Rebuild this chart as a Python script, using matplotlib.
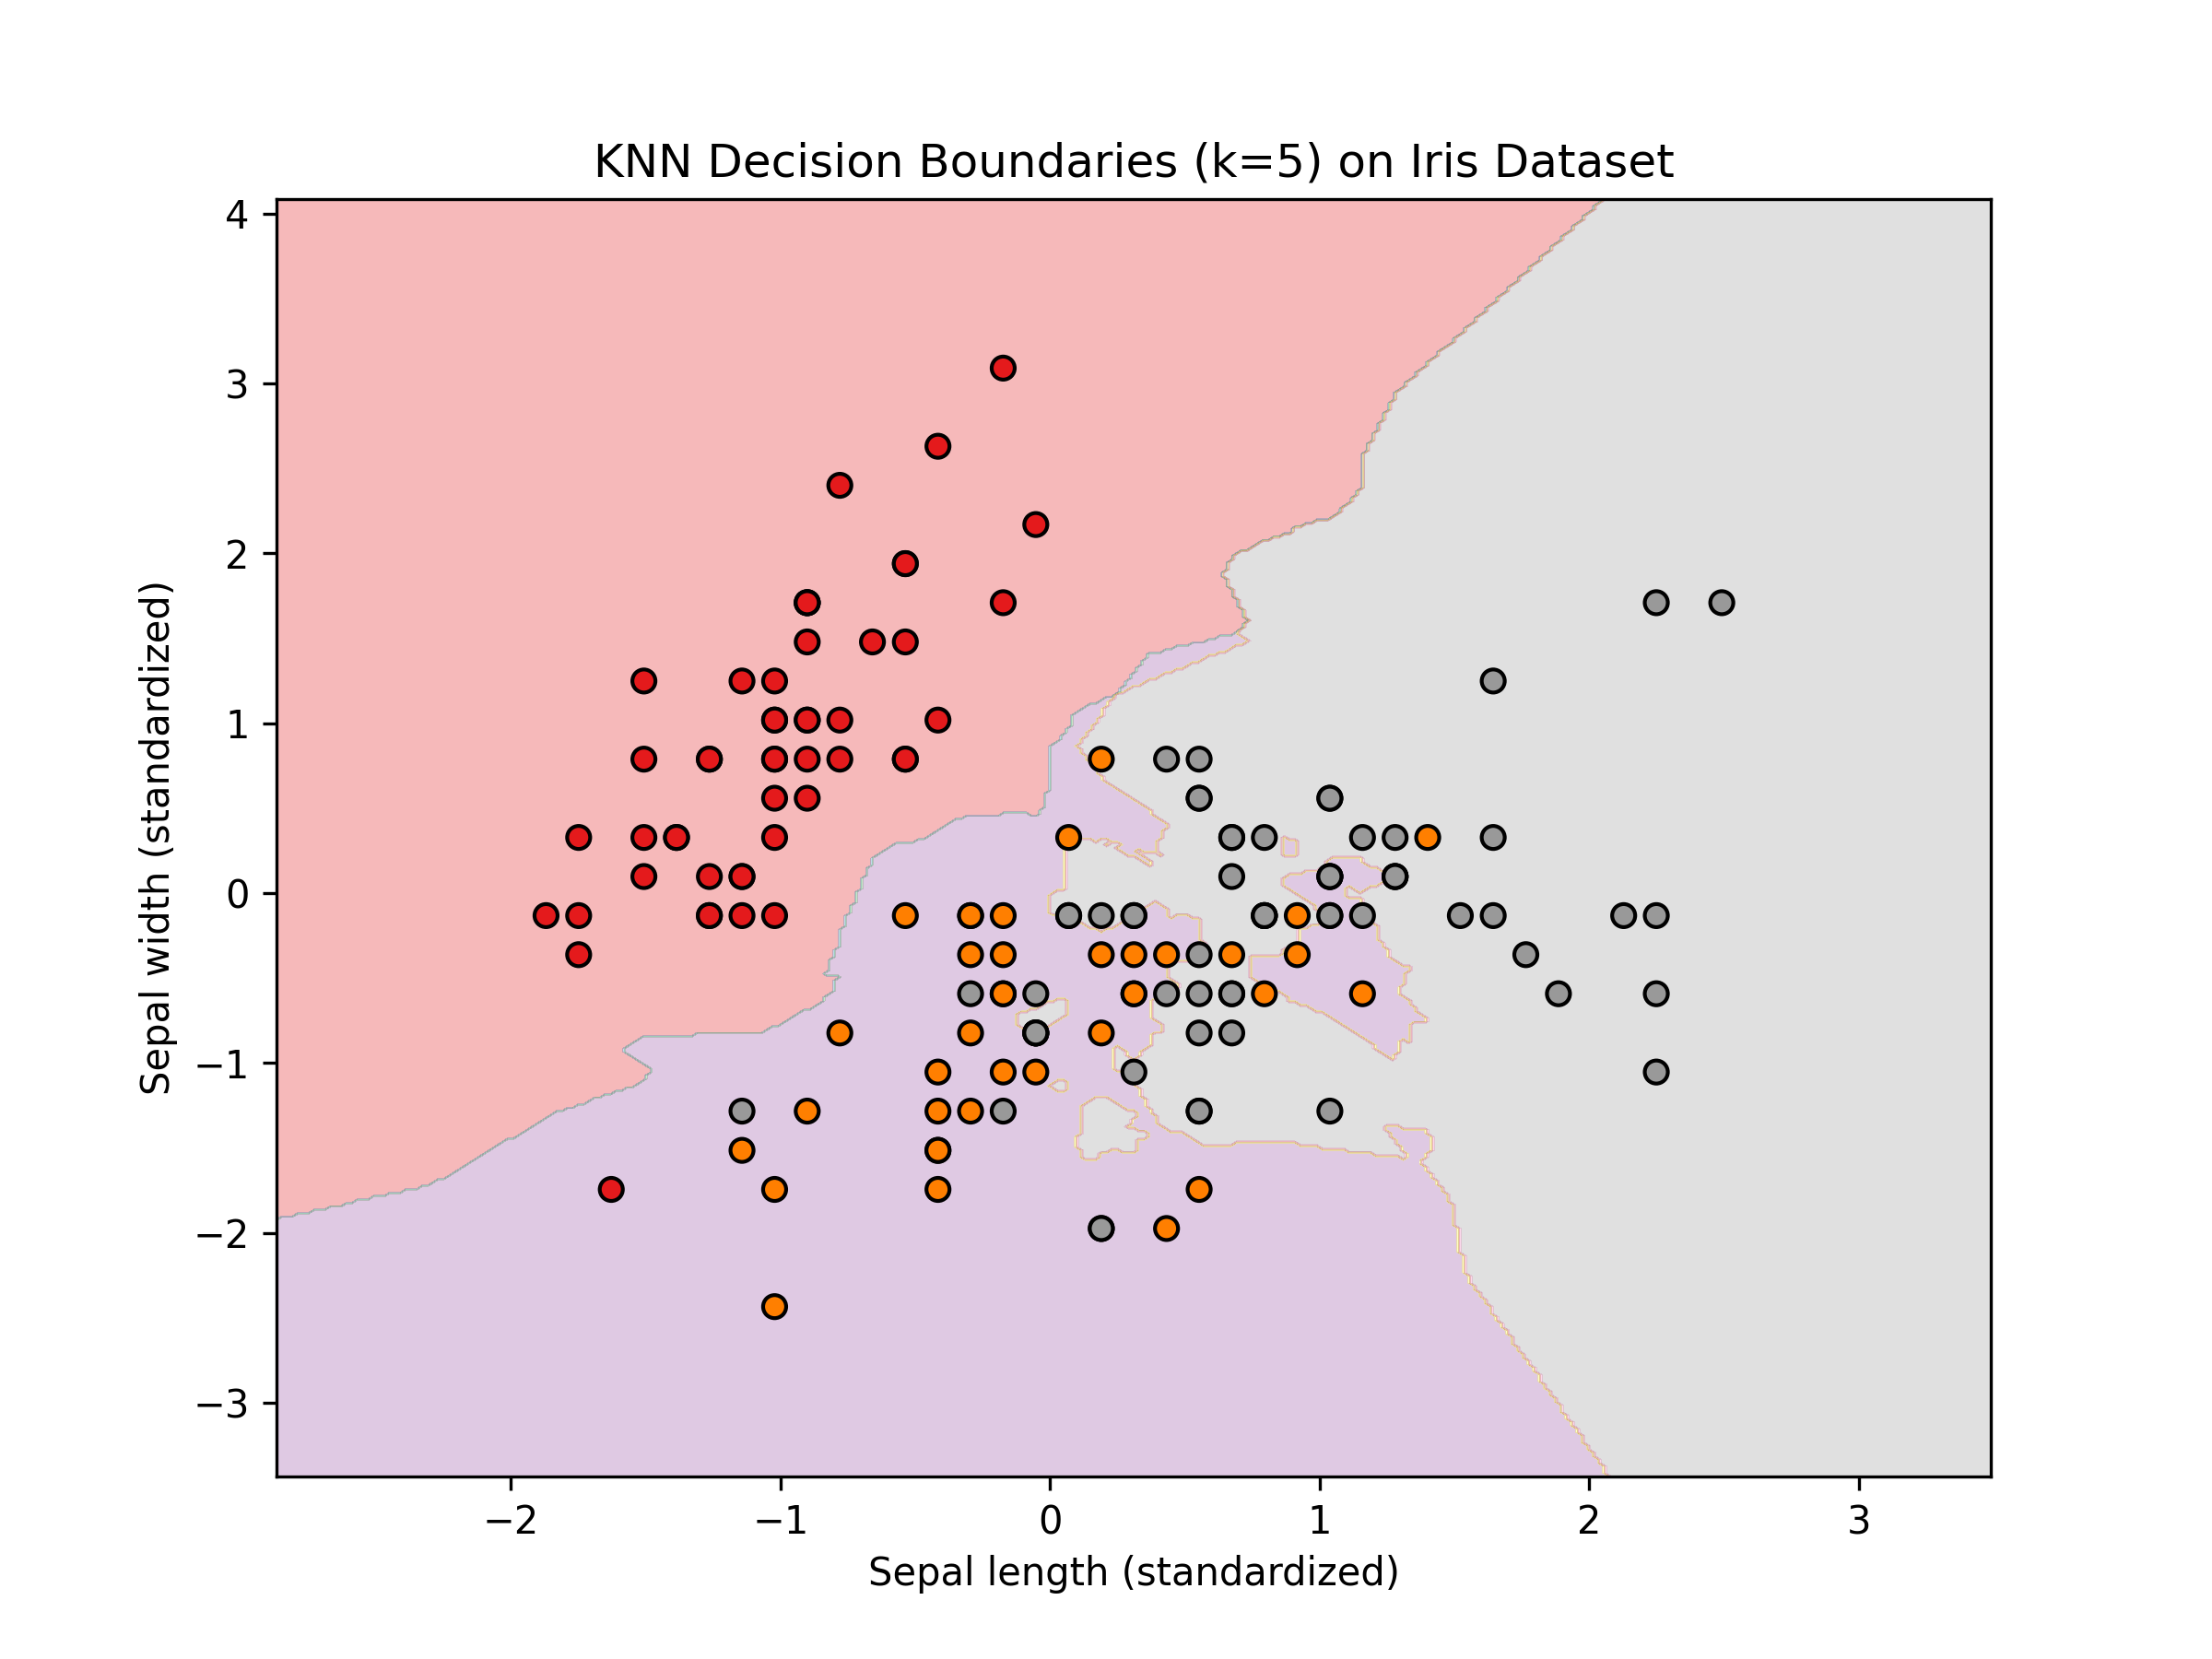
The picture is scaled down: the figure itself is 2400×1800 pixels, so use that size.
import numpy as np
import matplotlib
matplotlib.use('Agg')
import matplotlib.pyplot as plt

# sepal length / sepal width (standardized), one list per class
setosa_x = [-0.901, -1.143, -1.386, -1.507, -1.022, -0.537, -1.507, -1.022, -1.749, -1.143,
            -0.537, -1.264, -1.264, -1.870, -0.053, -0.174, -0.537, -0.901, -0.174, -0.901,
            -0.537, -0.901, -1.507, -0.901, -1.264, -1.022, -1.022, -0.780, -0.780, -1.386,
            -1.264, -0.537, -0.780, -0.416, -1.143, -1.022, -0.416, -1.143, -1.749, -0.901,
            -1.022, -1.628, -1.749, -1.022, -0.901, -1.264, -0.901, -1.507, -0.659, -1.022]
setosa_y = [1.019, -0.132, 0.328, 0.098, 1.249, 1.940, 0.789, 0.789, -0.362, 0.098,
            1.479, 0.789, -0.132, -0.132, 2.170, 3.091, 1.940, 1.019, 1.710, 1.710,
            0.789, 1.479, 1.249, 0.559, 0.789, -0.132, 0.789, 1.019, 0.789, 0.328,
            0.098, 0.789, 2.401, 2.631, 0.098, 0.328, 1.019, 1.249, -0.132, 0.789,
            1.019, -1.744, 0.328, 1.019, 1.710, -0.132, 1.710, 0.328, 1.479, 0.559]

versicolor_x = [1.401, 0.674, 1.280, -0.416, 0.795, -0.174, 0.553, -1.143, 0.917, -0.780,
                -1.022, 0.069, 0.190, 0.311, -0.295, 1.038, -0.295, -0.053, 0.432, -0.295,
                0.069, 0.311, 0.553, 0.311, 0.674, 0.917, 1.159, 1.038, 0.190, -0.174,
                -0.416, -0.416, -0.053, 0.190, -0.537, 0.190, 1.038, 0.553, -0.295, -0.416,
                -0.416, 0.311, -0.053, -1.022, -0.295, -0.174, -0.174, 0.432, -0.901, -0.174]
versicolor_y = [0.328, 0.328, 0.098, -1.744, -0.592, -0.592, 0.559, -1.514, -0.362, -0.823,
                -2.434, -0.132, -1.974, -0.362, -0.362, 0.098, -0.132, -0.823, -1.974, -1.283,
                0.328, -0.592, -1.283, -0.592, -0.362, -0.132, -0.592, -0.132, -0.362, -1.053,
                -1.514, -1.514, -0.823, -0.823, -0.132, 0.789, 0.098, -1.744, -0.132, -1.283,
                -1.053, -0.132, -1.053, -1.744, -0.823, -0.132, -0.362, -0.362, -1.283, -0.592]

virginica_x = [0.553, -0.053, 1.522, 0.553, 0.795, 2.128, -1.143, 1.765, 1.038, 1.644,
               0.795, 0.674, 1.159, -0.174, -0.053, 0.674, 0.795, 2.249, 2.249, 0.190,
               1.280, -0.295, 2.249, 0.553, 1.038, 1.644, 0.432, 0.311, 0.674, 1.644,
               1.886, 2.492, 0.674, 0.553, 0.311, 2.249, 0.553, 0.674, 0.190, 1.280,
               1.038, 1.280, -0.053, 1.159, 1.038, 1.038, 0.553, 0.795, 0.432, 0.069]
virginica_y = [0.559, -0.823, -0.132, -0.362, -0.132, -0.132, -1.283, -0.362, -1.283, 1.249,
               0.328, -0.823, -0.132, -1.283, -0.592, 0.328, -0.132, 1.710, -1.053, -1.974,
               0.328, -0.592, -0.592, -0.823, 0.559, 0.328, -0.592, -0.132, -0.592, -0.132,
               -0.592, 1.710, -0.592, -0.592, -1.053, -0.132, 0.789, 0.098, -0.132, 0.098,
               0.098, 0.098, -0.823, 0.328, 0.559, -0.132, -1.283, -0.132, 0.789, -0.132]

k = 5

X = np.array(setosa_x + versicolor_x + virginica_x)
Y = np.array(setosa_y + versicolor_y + virginica_y)
P = np.column_stack([X, Y])
labels = np.array([0] * len(setosa_x) + [1] * len(versicolor_x) + [2] * len(virginica_x))

# сетка для границ решений
xx, yy = np.meshgrid(np.arange(X.min() - 1, X.max() + 1, 0.02),
                     np.arange(Y.min() - 1, Y.max() + 1, 0.02))


# kd-tree with 3 levels: equal distances go to the point whose leaf is visited first
nodes = {0: np.arange(len(X))}
for n in range(3):
    idx = nodes[n]
    dim = np.argmax(P[idx].max(axis=0) - P[idx].min(axis=0))
    order = idx[np.lexsort((idx, P[idx, dim]))]
    nodes[2 * n + 1] = np.sort(order[:len(idx) // 2])
    nodes[2 * n + 2] = np.sort(order[len(idx) // 2:])

leaf_of = np.zeros(len(X), dtype=int)
pos_of = np.zeros(len(X), dtype=int)
for n in (3, 4, 5, 6):
    leaf_of[nodes[n]] = n - 3
    pos_of[nodes[n]] = np.arange(len(nodes[n]))
# lower half of the tree: later points first
for n in (3, 4):
    pos_of[nodes[n]] = np.arange(len(nodes[n]))[::-1]
# except the shared point near (-0.05, -0.82), where versicolor comes first
shared = (X == -0.053) & (Y == -0.823)
pos_of[shared & (labels == 2)] += 100


def box_dist(n, px, py):
    lo = P[nodes[n]].min(axis=0)
    hi = P[nodes[n]].max(axis=0)
    dx = np.maximum(np.maximum(lo[0] - px, px - hi[0]), 0)
    dy = np.maximum(np.maximum(lo[1] - py, py - hi[1]), 0)
    return dx ** 2 + dy ** 2


Z = np.zeros(xx.shape, dtype=int)
for i in range(xx.shape[0]):
    px = xx[i]
    py = yy[i]
    left_first = box_dist(1, px, py) <= box_dist(2, px, py)
    first_3 = box_dist(3, px, py) <= box_dist(4, px, py)
    first_5 = box_dist(5, px, py) <= box_dist(6, px, py)
    rank = np.column_stack([np.where(left_first, 0, 2) + np.where(first_3, 0, 1),
                            np.where(left_first, 0, 2) + np.where(first_3, 1, 0),
                            np.where(left_first, 2, 0) + np.where(first_5, 0, 1),
                            np.where(left_first, 2, 0) + np.where(first_5, 1, 0)])
    d = (px[:, None] - X) ** 2 + (py[:, None] - Y) ** 2
    d = d + 1e-10 * (rank[:, leaf_of] * 200 + pos_of)
    nearest = np.argsort(d, axis=1)[:, :k]
    votes = labels[nearest]
    for j in range(votes.shape[0]):
        Z[i, j] = np.bincount(votes[j], minlength=3).argmax()

fig, ax = plt.subplots(figsize=(8, 6))
ax.contourf(xx, yy, Z, alpha=0.3, cmap='Set1')
ax.scatter(X, Y, c=labels, cmap='Set1', edgecolors='k')
ax.set_xlabel('Sepal length (standardized)', labelpad=3.4)
ax.set_ylabel('Sepal width (standardized)')
ax.set_title('KNN Decision Boundaries (k=5) on Iris Dataset')

fig.savefig('out.png', dpi=300)
